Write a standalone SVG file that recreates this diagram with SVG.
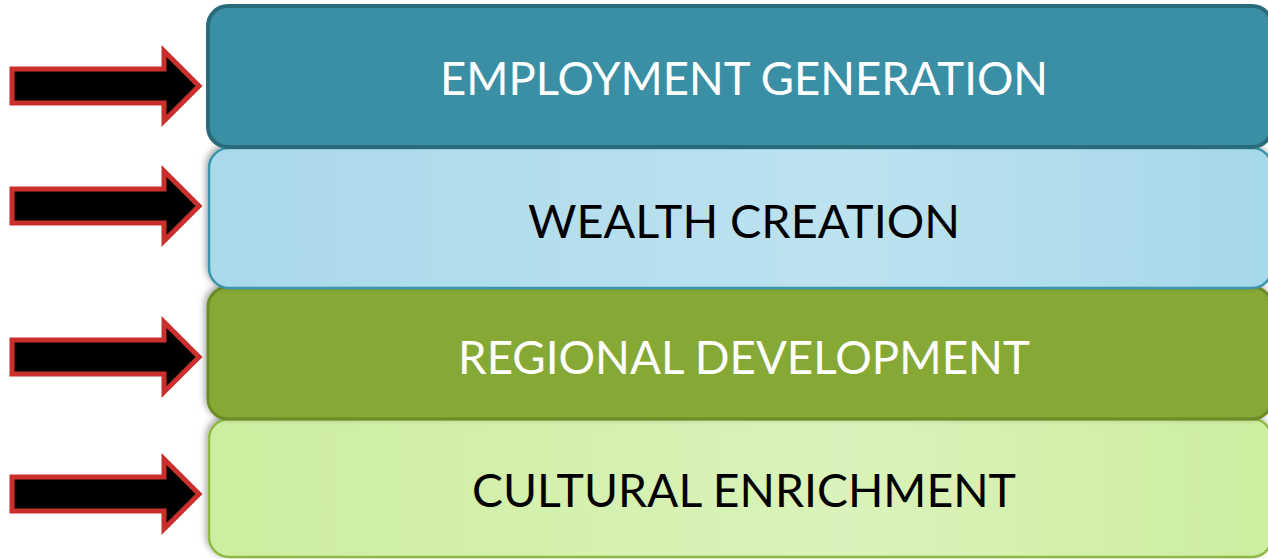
<svg xmlns="http://www.w3.org/2000/svg" width="1268" height="559" viewBox="0 0 1268 559">
<defs>
<linearGradient id="gBlue" x1="0" y1="0" x2="1" y2="0">
<stop offset="0" stop-color="#a9d9eb"/><stop offset="0.6" stop-color="#bde2f0"/><stop offset="1" stop-color="#a5d8ea"/>
</linearGradient>
<linearGradient id="gGreen" x1="0" y1="0" x2="1" y2="0">
<stop offset="0" stop-color="#cdeea0"/><stop offset="0.6" stop-color="#daf3ba"/><stop offset="1" stop-color="#cdeea0"/>
</linearGradient>
<filter id="sh" x="-5%" y="-20%" width="110%" height="140%">
<feDropShadow dx="-2" dy="-2" stdDeviation="3" flood-color="#000" flood-opacity="0.35"/>
</filter>
<path id="arrow" d="M0,-17 H152 V-35 L187,0 L152,35 V17 H0 Z"/>
</defs>
<style>
.arr{fill:#000;stroke:#c9302c;stroke-width:5;stroke-linejoin:miter}
.lbl{font-family:"Lato","Open Sans","Liberation Sans",sans-serif;font-size:46px;text-anchor:middle}
</style>
<g id="connectors">
<use href="#arrow" class="arr" x="12" y="86"/>
<use href="#arrow" class="arr" x="12" y="206"/>
<use href="#arrow" class="arr" x="12" y="357"/>
<use href="#arrow" class="arr" x="12" y="494"/>
</g>
<g id="node4">
<rect x="209" y="419" width="1063" height="138" rx="20" fill="url(#gGreen)" stroke="#8cba45" stroke-width="2.5" filter="url(#sh)"/>
<text class="lbl" x="744" y="507" fill="#000" textLength="544" lengthAdjust="spacingAndGlyphs">CULTURAL ENRICHMENT</text>
</g>
<g id="node3">
<rect x="208" y="287" width="1064" height="132" rx="20" fill="#86a934" stroke="#6a8c25" stroke-width="3" filter="url(#sh)"/>
<text class="lbl" x="744" y="374" fill="#fff" textLength="572" lengthAdjust="spacingAndGlyphs">REGIONAL DEVELOPMENT</text>
</g>
<g id="node2">
<rect x="209" y="148" width="1063" height="140" rx="20" fill="url(#gBlue)" stroke="#3a95ad" stroke-width="2.5" filter="url(#sh)"/>
<text class="lbl" x="744" y="238" fill="#000" textLength="432" lengthAdjust="spacingAndGlyphs">WEALTH CREATION</text>
</g>
<g id="node1">
<rect x="208" y="6" width="1064" height="141" rx="20" fill="#3a8fa5" stroke="#2a6b7b" stroke-width="4"/>
<text class="lbl" x="744" y="95" fill="#fff" textLength="608" lengthAdjust="spacingAndGlyphs">EMPLOYMENT GENERATION</text>
</g>
</svg>
